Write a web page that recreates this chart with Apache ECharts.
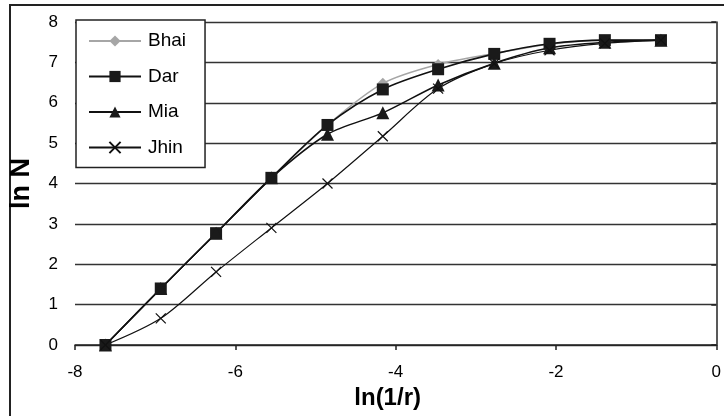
<!DOCTYPE html>
<html>
<head>
<meta charset="utf-8">
<script src="https://cdn.jsdelivr.net/npm/echarts@6/dist/echarts.min.js"></script>
<style>html,body{margin:0;padding:0;background:#fff;}#c{width:724px;height:416px;}</style>
</head>
<body>
<div id="c"></div>
<script>
// ln(1/r) values
const xValues = [-7.62, -6.93, -6.24, -5.55, -4.85, -4.16, -3.47, -2.77, -2.08, -1.39, -0.69];
const bhai = [0, 1.40, 2.77, 4.14, 5.45, 6.48, 6.95, 7.22, 7.45, 7.55, 7.55];
const dar  = [0, 1.40, 2.77, 4.14, 5.45, 6.33, 6.83, 7.21, 7.46, 7.55, 7.55];
const mia  = [0, 1.40, 2.77, 4.14, 5.22, 5.75, 6.44, 6.98, 7.36, 7.50, 7.55];
const jhin = [0, 0.66, 1.81, 2.90, 4.00, 5.17, 6.35, 6.97, 7.30, 7.47, 7.55];
const seriesNames = ['Bhai', 'Dar', 'Mia', 'Jhin'];
const xTicks = [-8, -6, -4, -2, 0];
const yTicks = [0, 1, 2, 3, 4, 5, 6, 7, 8];

const pair = arr => xValues.map((x, i) => [x, arr[i]]);
const FONT = '"Liberation Sans", Arial, sans-serif';
const crossPath = 'path://M0,0L10,10M10,0L0,10';

const chart = echarts.init(document.getElementById('c'), null, {renderer: 'canvas'});
chart.setOption({
  animation: false,
  backgroundColor: '#fff',
  textStyle: {fontFamily: FONT},
  graphic: [{
    type: 'rect', silent: true, z: -1,
    shape: {x: 10, y: 5, width: 760, height: 460},
    style: {fill: 'none', stroke: '#222', lineWidth: 2}
  }],
  grid: {left: 73, top: 22, right: 4, bottom: 71, containLabel: false},
  legend: {
    data: seriesNames,
    left: 76, top: 20,
    orient: 'vertical',
    selectedMode: false,
    backgroundColor: '#fff',
    borderColor: '#222', borderWidth: 1.5,
    padding: [11, 19, 10, 12],
    itemWidth: 52, itemHeight: 14, itemGap: 15.5,
    textStyle: {fontSize: 19, lineHeight: 20, color: '#000', fontFamily: FONT, padding: [0, 0, 0, 2]}
  },
  xAxis: {
    type: 'value', min: -8, max: 0, interval: 2,
    name: 'ln(1/r)', nameLocation: 'middle', nameGap: 41,
    nameTextStyle: {fontSize: 24, fontWeight: 'bold', color: '#000', fontFamily: FONT, padding: [0, 16, 0, 0]},
    axisLine: {show: true, onZero: false, lineStyle: {color: '#222', width: 1.5}},
    axisTick: {show: true, length: 5, lineStyle: {color: '#222', width: 1.5}},
    axisLabel: {fontSize: 17, color: '#000', margin: 19, fontFamily: FONT},
    splitLine: {show: false}
  },
  yAxis: {
    type: 'value', min: 0, max: 8, interval: 1,
    name: 'ln N', nameLocation: 'middle', nameGap: 40, nameRotate: 90,
    nameTextStyle: {fontSize: 27, fontWeight: 'bold', color: '#000', fontFamily: FONT},
    axisLine: {show: true, lineStyle: {color: '#222', width: 1.5}},
    axisTick: {show: true, length: 5, lineStyle: {color: '#222', width: 1.5}},
    axisLabel: {fontSize: 17, color: '#000', margin: 17, fontFamily: FONT},
    splitLine: {show: true, lineStyle: {color: '#333', width: 1.3}}
  },
  series: [
    {name: 'Bhai', type: 'line', data: pair(bhai), smooth: 0.3,
      symbol: 'diamond', symbolSize: 11,
      lineStyle: {color: '#a6a6a6', width: 1.5},
      itemStyle: {color: '#a6a6a6'}},
    {name: 'Dar', type: 'line', data: pair(dar), smooth: 0.3,
      symbol: 'rect', symbolSize: 12,
      lineStyle: {color: '#111', width: 1.6},
      itemStyle: {color: '#1a1a1a'}},
    {name: 'Mia', type: 'line', data: pair(mia), smooth: 0.3,
      symbol: 'triangle', symbolSize: 13,
      lineStyle: {color: '#111', width: 1.5},
      itemStyle: {color: '#1a1a1a'}},
    {name: 'Jhin', type: 'line', data: pair(jhin), smooth: 0.3,
      symbol: crossPath, symbolSize: 10,
      lineStyle: {color: '#111', width: 1.2},
      itemStyle: {color: 'rgba(0,0,0,0)', borderColor: '#111', borderWidth: 1.2}}
  ]
});
</script>
</body>
</html>
